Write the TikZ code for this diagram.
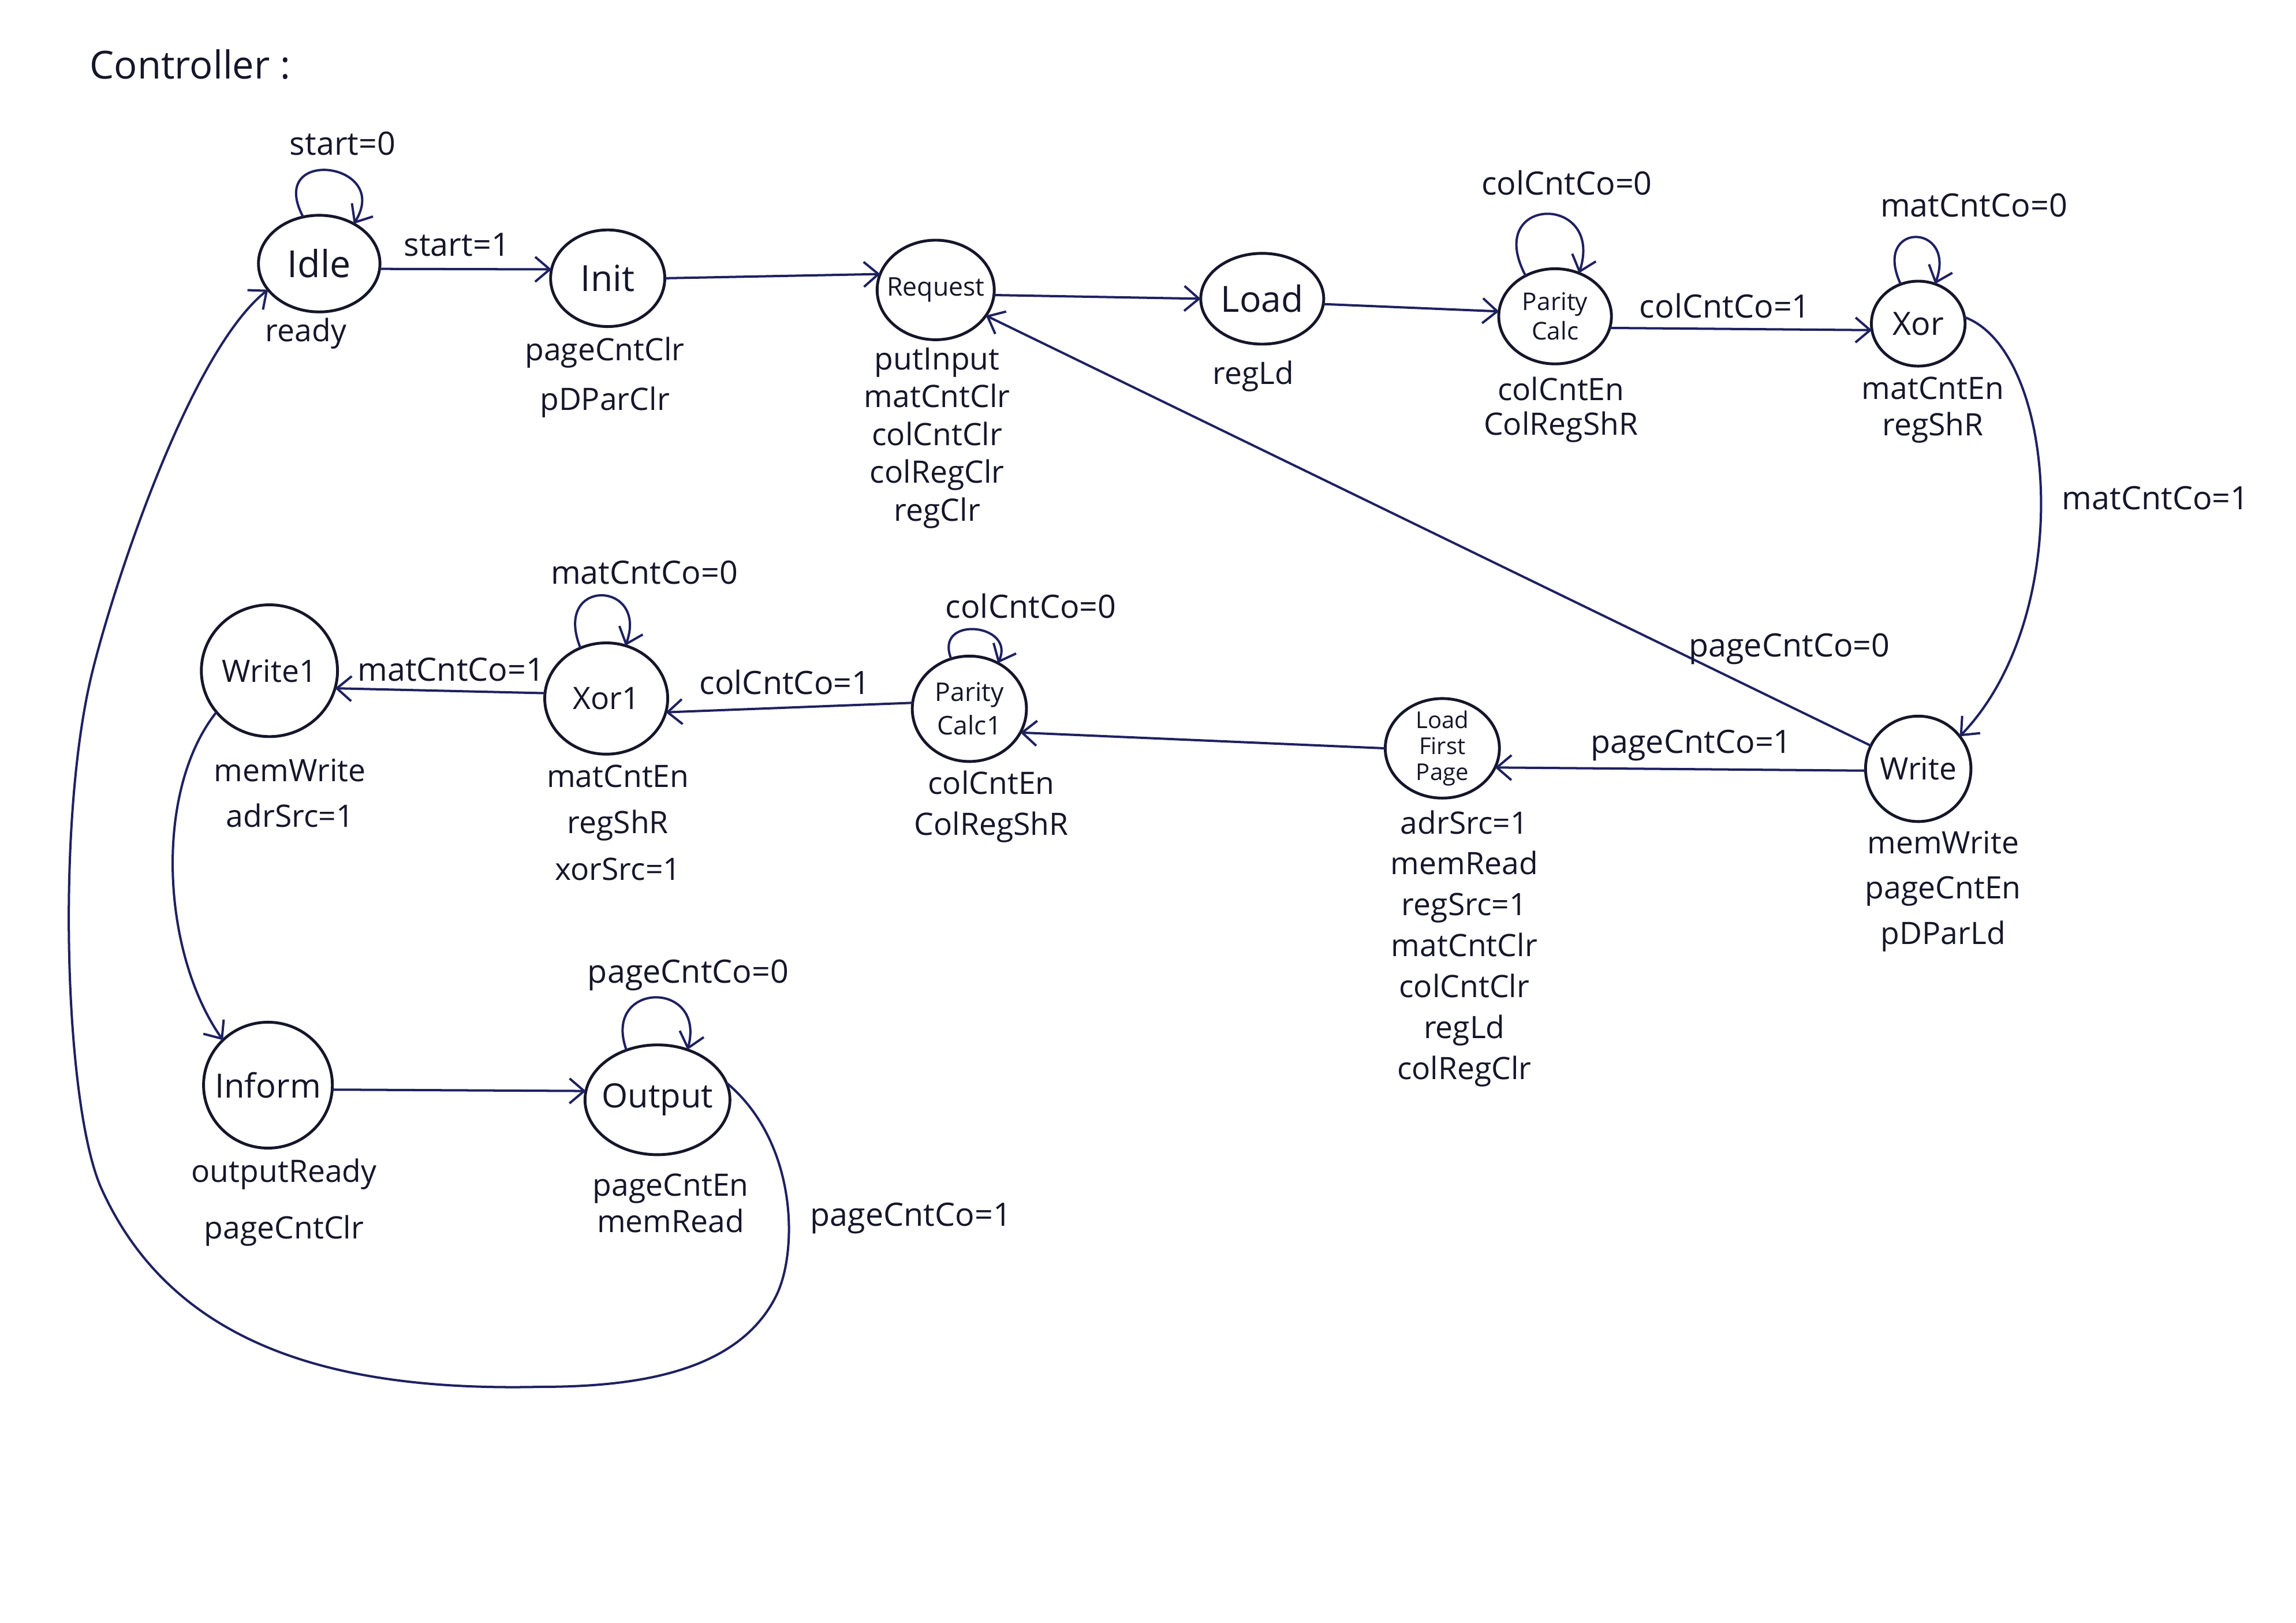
\documentclass[tikz,border=0pt]{standalone}
\usepackage{fontspec}
\setmainfont{Open Sans}
\usetikzlibrary{arrows.meta,shapes.geometric}
\definecolor{ink}{HTML}{16162A}
\definecolor{pen}{HTML}{1E2160}
\begin{document}
\begin{tikzpicture}[x=0.02cm,y=-0.02cm,
  st/.style 2 args={ellipse, draw=ink, line width=1.1pt, inner sep=0pt, outer sep=0pt, minimum width=#1, minimum height=#2},
  nmt/.style={text=ink, align=center, inner sep=0pt},
  edge/.style={draw=pen, line width=0.9pt, -{Straight Barb[length=2mm,width=3.4mm]}},
  lbl/.style={text=ink, inner sep=0pt, font=\fontsize{12.5}{15}\selectfont},
  outs/.style={text=ink, align=center, anchor=north, inner sep=0pt, font=\fontsize{12}{#1}\selectfont},
]
\fill[white] (0,0) rectangle (1568,1108);
\useasboundingbox (0,0) rectangle (1568,1108);

% title
\node[text=ink, anchor=west, inner sep=0pt, font=\fontsize{15}{18}\selectfont] (title) at (61,44) {Controller :};

% states
\node[st={1.66cm}{1.32cm}, label={[nmt,font=\fontsize{14.5}{16}\selectfont]center:Idle}] (idle) at (218,180) {};
\node[st={1.56cm}{1.32cm}, label={[nmt,font=\fontsize{14}{16}\selectfont]center:Init}] (init) at (415,190) {};
\node[st={1.6cm}{1.36cm}, label={[nmt,font=\fontsize{10}{12}\selectfont]center:Request}] (request) at (639,198) {};
\node[st={1.68cm}{1.24cm}, label={[nmt,font=\fontsize{14}{16}\selectfont]center:Load}] (load) at (862,204) {};
\node[st={1.54cm}{1.3cm}, label={[nmt,font=\fontsize{9.5}{11.5}\selectfont]center:Parity\\Calc}] (pc) at (1062,216) {};
\node[st={1.28cm}{1.16cm}, label={[nmt,font=\fontsize{12.5}{14}\selectfont]center:Xor}] (xor) at (1310,221) {};
\node[st={1.44cm}{1.44cm}, label={[nmt,font=\fontsize{12}{14}\selectfont]center:Write}] (write) at (1310,525) {};
\node[st={1.56cm}{1.36cm}, label={[nmt,font=\fontsize{9}{10}\selectfont]center:Load\\First\\Page}] (lfp) at (985,511) {};
\node[st={1.56cm}{1.44cm}, label={[nmt,font=\fontsize{10}{13}\selectfont]center:Parity\\Calc1}] (pc1) at (662,484) {};
\node[st={1.68cm}{1.52cm}, label={[nmt,font=\fontsize{12}{14}\selectfont]center:Xor1}] (xor1) at (414,477) {};
\node[st={1.86cm}{1.8cm}, label={[nmt,font=\fontsize{12}{14}\selectfont]center:Write1}] (write1) at (184,458) {};
\node[st={1.76cm}{1.72cm}, label={[nmt,font=\fontsize{13}{15}\selectfont]center:Inform}] (inform) at (183,741) {};
\node[st={1.98cm}{1.5cm}, label={[nmt,font=\fontsize{13}{15}\selectfont]center:Output}] (output) at (449,751) {};

% outputs of states
\node[outs=15] (o-idle) at (209,217) {ready};
\node[outs=19.3] (o-init) at (413,230) {pageCntClr\\pDParClr};
\node[outs=14.7] (o-request) at (640,237) {putInput\\matCntClr\\colCntClr\\colRegClr\\regClr};
\node[outs=15] (o-load) at (856,246) {regLd};
\node[outs=13.5] (o-pc) at (1066,257) {colCntEn\\ColRegShR};
\node[outs=14.2] (o-xor) at (1320,257) {matCntEn\\regShR};
\node[outs=17.6] (o-write) at (1327,567) {memWrite\\pageCntEn\\pDParLd};
\node[outs=15.9] (o-lfp) at (1000,553) {adrSrc=1\\memRead\\regSrc=1\\matCntClr\\colCntClr\\regLd\\colRegClr};
\node[outs=16] (o-pc1) at (677,526) {colCntEn\\ColRegShR};
\node[outs=18] (o-xor1) at (422,522) {matCntEn\\regShR\\xorSrc=1};
\node[outs=17.6] (o-write1) at (198,518) {memWrite\\adrSrc=1};
\node[outs=22] (o-inform) at (194,791) {outputReady\\pageCntClr};
\node[outs=14.2] (o-output) at (458,801) {pageCntEn\\memRead};

% self loops
\draw[edge] (idle.109) .. controls +(118:1.1cm) and +(58:1.0cm) .. (idle.49);
\draw[edge] (pc.126) .. controls +(118:1.25cm) and +(72:1.15cm) .. (pc.61);
\draw[edge] (xor.114) .. controls +(115:0.95cm) and +(70:0.9cm) .. (xor.67);
\draw[edge] (xor1.117) .. controls +(112:1.05cm) and +(70:0.95cm) .. (xor1.70);
\draw[edge] (pc1.110) .. controls +(112:0.65cm) and +(65:0.6cm) .. (pc1.58);
\draw[edge] (output.122) .. controls +(110:1.0cm) and +(75:1.0cm) .. (output.59);

% transitions
\draw[edge] (idle.-5) -- (init.171);
\draw[edge] (init.0) -- (request.164);
\draw[edge] (request.-5) -- (load.180);
\draw[edge] (load.-5) -- (pc.175);
\draw[edge] (pc.-12) -- (xor.188);
\draw[edge] (xor.8) .. controls (1405,240) and (1418,420) .. (write.38);
\draw[edge] (write.154) -- (request.-27);
\draw[edge] (write.182) -- (lfp.-20);
\draw[edge] (lfp.180) -- (pc1.-25);
\draw[edge] (pc1.174) -- (xor1.-13);
\draw[edge] (xor1.175) -- (write1.-15);
\draw[edge] (write1.218) .. controls (105,540) and (110,650) .. (inform.135);
\draw[edge] (inform.-4) -- (output.173);
\draw[edge] (output.14) .. controls (545,780) and (545,855) .. (530,885)
  .. controls (505,935) and (440,947) .. (370,947)
  .. controls (240,950) and (120,925) .. (69,811)
  .. controls (44,754) and (38,560) .. (63,459)
  .. controls (78,398) and (130,240) .. (idle.207);

% transition labels
\node[lbl] (l-start0) at (234,98) {start=0};
\node[lbl] (l-start1) at (312,167) {start=1};
\node[lbl] (l-pc0) at (1070,125) {colCntCo=0};
\node[lbl] (l-pc1) at (1178,209) {colCntCo=1};
\node[lbl] (l-xor0) at (1348,140) {matCntCo=0};
\node[lbl] (l-xor1) at (1472,340) {matCntCo=1};
\node[lbl] (l-w0) at (1222,443) {pageCntCo=0};
\node[lbl] (l-w1) at (1155,509) {pageCntCo=1};
\node[lbl] (l-pcb0) at (704,414) {colCntCo=0};
\node[lbl] (l-pcb1) at (536,466) {colCntCo=1};
\node[lbl] (l-xb0) at (440,391) {matCntCo=0};
\node[lbl] (l-xb1) at (308,457) {matCntCo=1};
\node[lbl] (l-o0) at (470,666) {pageCntCo=0};
\node[lbl] (l-o1) at (622,832) {pageCntCo=1};
\end{tikzpicture}
\end{document}
